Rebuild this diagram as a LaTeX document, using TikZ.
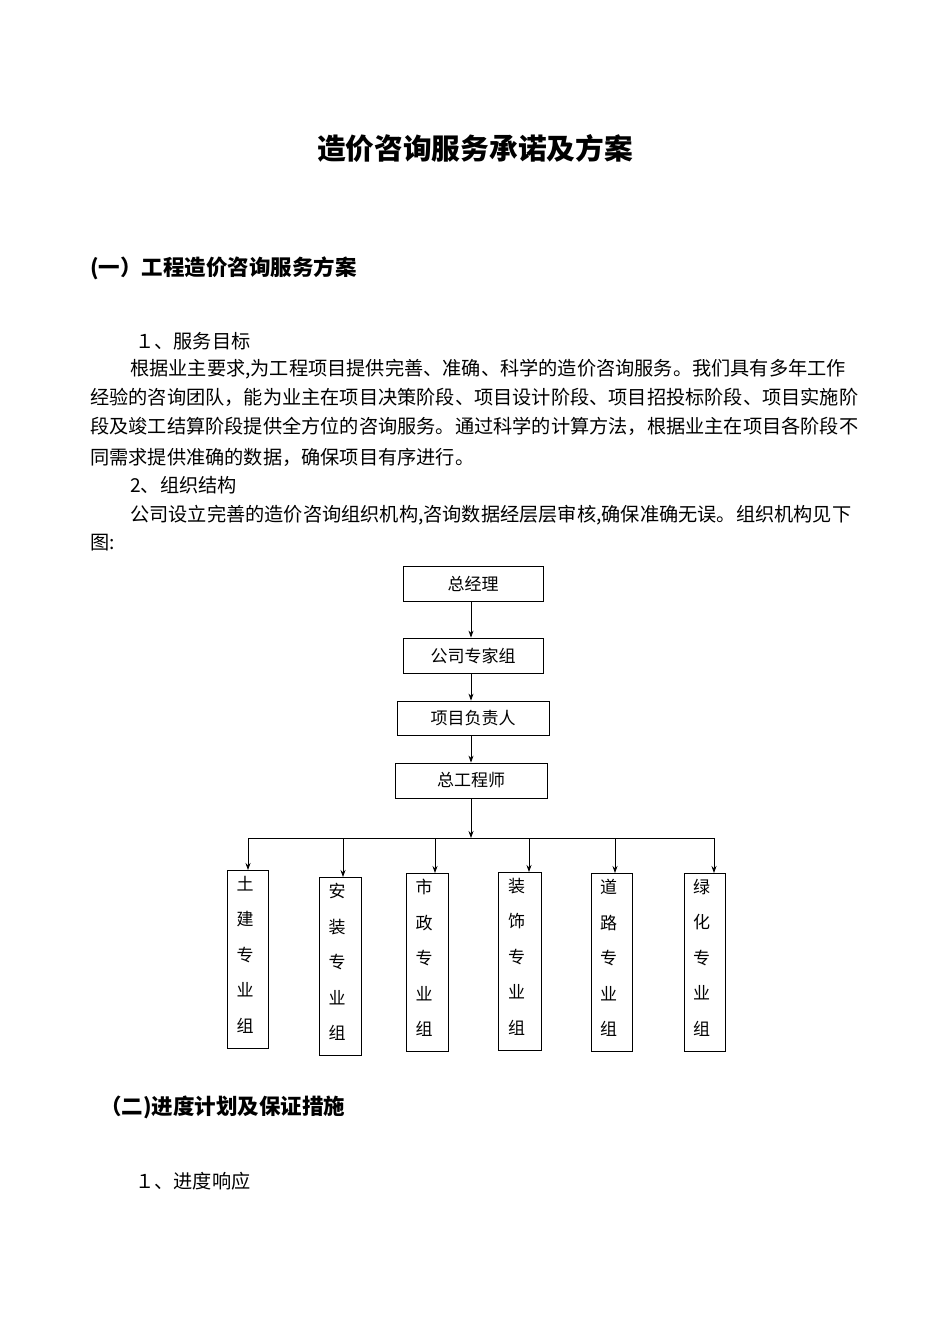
\documentclass[tikz,border=0pt]{standalone}
\usepackage{fontspec}
\setmainfont{Noto Sans CJK SC}
\usetikzlibrary{arrows.meta}
\begin{document}
\begin{tikzpicture}[x=1pt,y=-1pt,
  txt/.style={anchor=west,inner sep=0pt,font=\fontsize{19.2}{21}\selectfont},
  hd/.style={anchor=west,inner sep=0pt,font=\fontsize{21.5}{23}\selectfont\bfseries},
  box/.style={draw,line width=0.8pt,inner sep=0pt,font=\fontsize{17}{19}\selectfont},
  arr/.style={line width=0.8pt,-{Stealth[length=7pt,width=5pt]}}]
\useasboundingbox[fill=white] (0,0) rectangle (950,1344);
\node[inner sep=0pt,font=\fontsize{28.7}{31}\selectfont\bfseries] (title) at (475,148) {造价咨询服务承诺及方案};
\node[hd] (h1) at (90,268) {(一）工程造价咨询服务方案};
\node[txt] (s1) at (135,341) {１、服务目标};
\node[txt] (p1) at (130,369) {根据业主要求,为工程项目提供完善、准确、科学的造价咨询服务。我们具有多年工作};
\node[txt] (p2) at (90,397) {经验的咨询团队，能为业主在项目决策阶段、项目设计阶段、项目招投标阶段、项目实施阶};
\node[txt] (p3) at (90,426) {段及竣工结算阶段提供全方位的咨询服务。通过科学的计算方法，根据业主在项目各阶段不};
\node[txt] (p4) at (90,457) {同需求提供准确的数据，确保项目有序进行。};
\node[txt] (s2) at (130,485) {2、组织结构};
\node[txt] (p5) at (130,515) {公司设立完善的造价咨询组织机构,咨询数据经层层审核,确保准确无误。组织机构见下};
\node[txt] (p6) at (90,543) {图:};
\node[hd] (h2) at (100,1107) {（二)进度计划及保证措施};
\node[txt] (s3) at (135,1181) {１、进度响应};
% chart
\node[box,minimum width=140pt,minimum height=35pt] (a) at (473,583.5) {总经理};
\node[box,minimum width=140pt,minimum height=35pt] (b) at (473,655.5) {公司专家组};
\node[box,minimum width=152pt,minimum height=34pt] (c) at (473,718) {项目负责人};
\node[box,minimum width=152pt,minimum height=35pt] (d) at (471,780.5) {总工程师};
\coordinate (x) at (471,0);
\draw[arr] (x |- a.south) -- (x |- b.north);
\draw[arr] (x |- b.south) -- (x |- c.north);
\draw[arr] (x |- c.south) -- (x |- d.north);
\coordinate (j) at (471,838);
\draw[arr] (d) -- (j);
\coordinate (l) at (248,838); \coordinate (r) at (714,838);
\draw[line width=0.8pt] (l) -- (r);
\foreach \n/\x/\y/\w/\t in {g1/248/870/41/{土\\建\\专\\业\\组},g2/340/877/42/{安\\装\\专\\业\\组},g3/427/873/42/{市\\政\\专\\业\\组},g4/519.5/872/43/{装\\饰\\专\\业\\组},g5/611.5/873/41/{道\\路\\专\\业\\组},g6/704.5/873/41/{绿\\化\\专\\业\\组}}{
  \node[box,anchor=north,minimum width=\w pt,minimum height=178pt] (\n) at (\x,\y) {};
  \node[anchor=north,inner sep=0pt,align=center,font=\fontsize{17}{35.5}\selectfont] (\n t) at ([xshift=-3pt,yshift=-6pt]\n.north) {\t};
}
\foreach \n/\x in {g1/248,g2/343,g3/435,g4/529,g5/615,g6/714}{
  \coordinate (\n s) at (\x,838);
  \draw[arr] (\n s) -- (\n s |- \n.north);
}
\end{tikzpicture}
\end{document}
